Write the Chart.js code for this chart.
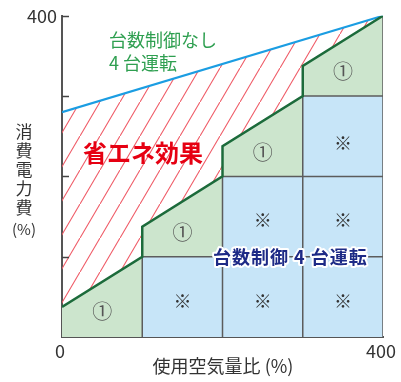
<!DOCTYPE html>
<html>
<head>
<meta charset="utf-8">
<script src="https://cdn.jsdelivr.net/npm/chart.js@4"></script>
<style>
  body { margin: 0; background: #fff; }
  #wrap { width: 401px; height: 382px; position: relative; }
</style>
</head>
<body>
<div id="wrap"><canvas id="powerChart"></canvas></div>
<script>
// 台数制御なし (4 台運転) の消費電力線
const noControlX = [0, 400];
const noControlY = [280, 400];

// 台数制御あり の消費電力線
const controlX = [0, 100, 100, 200, 200, 300, 300, 400];
const controlY = [37.5, 100, 137.5, 200, 237.5, 300, 337.5, 400];

// フル運転している台の範囲 (青いセル)
const fullLoadX = [100, 200, 200, 300, 300, 400];
const fullLoadY = [100, 100, 200, 200, 300, 300];

// セルの区切り線 [x1, y1, x2, y2]
const cellLines = [
    [100, 0, 100, 100],
    [200, 0, 200, 200],
    [300, 0, 300, 300],
    [400, 0, 400, 400],
    [100, 100, 400, 100],
    [200, 200, 400, 200],
    [300, 300, 400, 300]
];

// ① と ※ の位置
const circleMarks = [[50, 32], [150, 130], [250, 230], [350, 331]];
const starMarks = [[150, 45], [250, 45], [350, 45], [250, 145], [350, 145], [350, 242]];

const yTicks = [100, 200, 300, 400];
const xTickLabels = ['0', '400'];
const yTickLabels = ['400'];

const FONT = '"Noto Sans CJK JP", "Noto Sans", sans-serif';

function toPoints(xs, ys) {
    return xs.map((x, i) => ({ x: x, y: ys[i] }));
}

function linePoints(segs) {
    const pts = [];
    segs.forEach(s => {
        pts.push({ x: s[0], y: s[1] });
        pts.push({ x: s[2], y: s[3] });
        pts.push({ x: s[2], y: null });
    });
    return pts;
}

// 斜線パターン
function makeHatch() {
    const c = document.createElement('canvas');
    c.width = 20;
    c.height = 34;
    const g = c.getContext('2d');
    g.strokeStyle = '#ef5a66';
    g.lineWidth = 1.1;
    g.beginPath();
    g.moveTo(0, 34);
    g.lineTo(20, 0);
    g.stroke();
    return g.createPattern(c, 'repeat');
}

const labelsPlugin = {
    id: 'labels',
    afterDatasetsDraw(chart) {
        const ctx = chart.ctx;
        const xs = chart.scales.x;
        const ys = chart.scales.y;
        const left = chart.chartArea.left;
        ctx.save();

        // 内向きの目盛り
        ctx.strokeStyle = '#444';
        ctx.lineWidth = 1.5;
        yTicks.forEach(v => {
            const py = Math.round(ys.getPixelForValue(v)) + 0.5;
            ctx.beginPath();
            ctx.moveTo(left, py);
            ctx.lineTo(left + 7, py);
            ctx.stroke();
        });

        ctx.textBaseline = 'middle';

        // ①
        ctx.fillStyle = '#555';
        ctx.textAlign = 'center';
        ctx.font = '20px ' + FONT;
        circleMarks.forEach(m => {
            ctx.fillText('①', xs.getPixelForValue(m[0]), ys.getPixelForValue(m[1]));
        });

        // ※
        ctx.fillStyle = '#333';
        ctx.font = '18px ' + FONT;
        starMarks.forEach(m => {
            ctx.fillText('※', xs.getPixelForValue(m[0]), ys.getPixelForValue(m[1]));
        });

        // 台数制御なし
        ctx.textAlign = 'left';
        ctx.fillStyle = '#2e9f50';
        ctx.font = '18px ' + FONT;
        ctx.fillText('台数制御なし', 109, 40);
        ctx.fillText('4 台運転', 109, 63);

        // 省エネ効果
        ctx.fillStyle = '#e60012';
        ctx.font = 'bold 24px ' + FONT;
        ctx.fillText('省エネ効果', 83, 153);

        // 台数制御 4 台運転
        ctx.font = 'bold 18px ' + FONT;
        ctx.letterSpacing = '1px';
        ctx.lineJoin = 'round';
        ctx.strokeStyle = '#fff';
        ctx.lineWidth = 4;
        ctx.strokeText('台数制御 4 台運転', 213, 257);
        ctx.fillStyle = '#1d2a86';
        ctx.fillText('台数制御 4 台運転', 213, 257);
        ctx.letterSpacing = '0px';

        // 軸タイトル
        ctx.fillStyle = '#333';
        ctx.textAlign = 'center';
        ctx.font = '18px ' + FONT;
        ctx.fillText('使用空気量比 (%)', 223, 366);

        ctx.font = '17px ' + FONT;
        const yTitle = ['消', '費', '電', '力', '費'];
        yTitle.forEach((ch, i) => {
            ctx.fillText(ch, 24, 132 + i * 18.8);
        });
        ctx.font = '15px ' + FONT;
        ctx.fillText('(%)', 24, 229);

        ctx.restore();
    }
};

const powerCtx = document.getElementById('powerChart').getContext('2d');
const powerChart = new Chart(powerCtx, {
    type: 'scatter',
    data: {
        datasets: [
            {
                // 台数制御なし + 斜線
                data: toPoints(noControlX, noControlY),
                showLine: true,
                borderColor: '#1b9de2',
                borderWidth: 2.2,
                backgroundColor: makeHatch(),
                fill: 'origin',
                pointRadius: 0,
                order: 5
            },
            {
                // 台数制御ありの範囲 (緑)
                data: toPoints(controlX, controlY),
                showLine: true,
                borderWidth: 0,
                borderColor: 'rgba(0,0,0,0)',
                backgroundColor: '#cce5cd',
                fill: 'origin',
                pointRadius: 0,
                order: 4
            },
            {
                // フル運転 (青)
                data: toPoints(fullLoadX, fullLoadY),
                showLine: true,
                borderWidth: 0,
                borderColor: 'rgba(0,0,0,0)',
                backgroundColor: '#c7e5f8',
                fill: 'origin',
                pointRadius: 0,
                order: 3
            },
            {
                // セルの区切り線
                data: linePoints(cellLines),
                showLine: true,
                spanGaps: false,
                borderColor: '#5c5c5c',
                borderWidth: 1.5,
                fill: false,
                pointRadius: 0,
                order: 2
            },
            {
                // 台数制御ありの線
                data: toPoints(controlX, controlY),
                showLine: true,
                borderColor: '#1c6b3b',
                borderWidth: 2.5,
                fill: false,
                pointRadius: 0,
                order: 1
            }
        ]
    },
    options: {
        responsive: true,
        maintainAspectRatio: false,
        animation: false,
        layout: { padding: { top: 15, right: 16, bottom: 0, left: 0 } },
        plugins: {
            legend: { display: false },
            tooltip: { enabled: false },
            filler: { drawTime: 'beforeDatasetDraw' }
        },
        scales: {
            x: {
                type: 'linear',
                min: 0,
                max: 400,
                grid: { display: false, drawTicks: false },
                border: { display: true, color: '#555', width: 2 },
                ticks: {
                    stepSize: 400,
                    padding: 3,
                    labelOffset: -2,
                    color: '#333',
                    font: { family: FONT, size: 18 },
                    callback: function (value) {
                        return xTickLabels.includes(String(value)) ? String(value) : '';
                    }
                },
                afterFit: function (scale) { scale.height = 45; }
            },
            y: {
                type: 'linear',
                min: 0,
                max: 400,
                grid: { display: false, drawTicks: false },
                border: { display: true, color: '#555', width: 2 },
                ticks: {
                    stepSize: 100,
                    padding: 5,
                    color: '#333',
                    font: { family: FONT, size: 18 },
                    callback: function (value) {
                        return yTickLabels.includes(String(value)) ? String(value) : '';
                    }
                },
                afterFit: function (scale) { scale.width = 62; }
            }
        }
    },
    plugins: [labelsPlugin]
});
</script>
</body>
</html>
